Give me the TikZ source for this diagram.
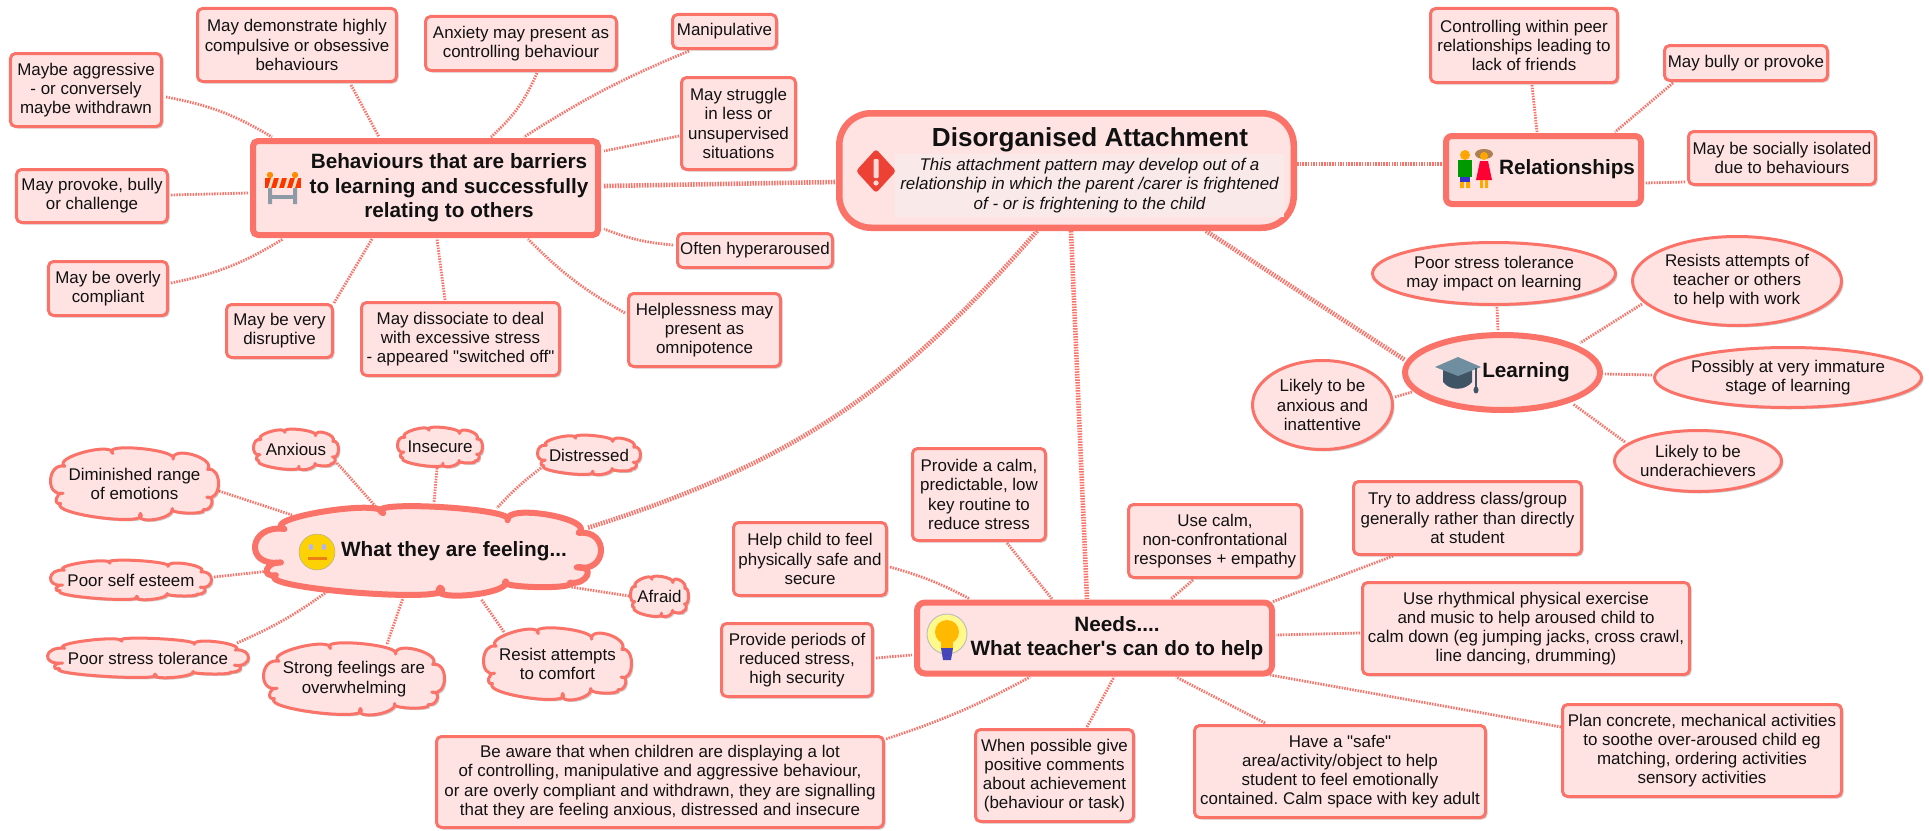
\documentclass[tikz,border=0pt]{standalone}
\usepackage{fontspec}
\setmainfont{Liberation Sans}[Ligatures=TeXOff]
\usetikzlibrary{shapes.geometric,shadows,calc}
\AtBeginDocument{\frenchspacing}
\definecolor{edge}{HTML}{FB7268}
\definecolor{paper}{HTML}{FFE3E3}
\definecolor{ink}{HTML}{111111}
\definecolor{notebg}{HTML}{F9E9E9}
\pgfdeclarelayer{bg}
\pgfsetlayers{bg,main}
\tikzset{
  softshadow/.style={drop shadow={shadow xshift=2bp,shadow yshift=-2bp,fill=black,opacity=.18}},
  base/.style={draw=edge,fill=paper,text=ink,align=center,inner sep=0pt,softshadow},
  smallbox/.style={base,rectangle,rounded corners=5bp,line width=3bp,font=\fontsize{17}{19.3}\selectfont},
  bigbox/.style={base,rectangle,line width=6bp},
  smalltxt/.style={text=ink,align=center,inner sep=0pt,font=\fontsize{17}{19.3}\selectfont},
  headtxt/.style={text=ink,align=center,inner sep=0pt,font=\fontsize{20.8}{24.5}\selectfont\bfseries},
  shapeline/.style={base,line width=3bp},
  lnk/.style={draw=edge,line width=2.8bp,dash pattern=on 1.5bp off 1.2bp},
  mainlnk/.style={lnk,line width=4.6bp},
}
% rectangle with its text inside
\newcommand{\rbx}[5]{\node[smallbox,minimum width={#3bp-3bp},minimum height={#4bp-3bp}] (#1) at (#2) {#5};}
% ellipse with its text on top
\newcommand{\shp}[6]{\node[shapeline,#1,minimum width={#4bp-3bp},minimum height={#5bp-3bp}] (#2) at (#3) {};
  \node[smalltxt] (#2-t) at (#2.center) {#6};}
% the cloud outline, in a unit box
\newcommand{\cloudoutline}{(-.85,.26)
  .. controls (-1.066,.374) and (-1.04,-.614) .. (-.83,-.5)
  .. controls (-.989,-.739) and (-.247,-1.207) .. (-.26,-.86)
  .. controls (-.408,-1.177) and (.528,-.969) .. (.46,-.70)
  .. controls (.445,-1.097) and (.979,-.719) .. (.87,-.41)
  .. controls (1.05,-.50) and (1.04,.514) .. (.86,.37)
  .. controls (.973,.325) and (.921,.779) .. (.82,.72)
  .. controls (.868,.878) and (.388,.838) .. (.45,.69)
  .. controls (.48,.989) and (-.014,1.171) .. (.07,.83)
  .. controls (.22,1.219) and (-1.016,.855) .. (-.88,.55)
  .. controls (-.972,.601) and (-.932,.223) .. (-.85,.26) -- cycle}
% #1 line width, #2 name, #3 centre, #4 w, #5 h
\newcommand{\cldpath}[5]{%
  \path[fill=black,opacity=.18,shift={(#3)},shift={(2,2)},xscale={(#4-#1)/2},yscale={(#5-#1)/2}] \cloudoutline;
  \path[draw=edge,fill=paper,line width=#1bp,line join=round,shift={(#3)},xscale={(#4-#1)/2},yscale={(#5-#1)/2}] \cloudoutline;}
\newcommand{\cld}[5]{\cldpath{3}{#1}{#2}{#3}{#4}\node[smalltxt,minimum width=#3bp,minimum height=#4bp] (#1) at (#2) {#5};}
% connector between two named nodes; offsets are from the node centres
\newcommand{\lnkk}[5][lnk]{\begin{pgfonlayer}{bg}\draw[#1] ([shift={(#3)}]#2.center) to ([shift={(#5)}]#4.center);\end{pgfonlayer}}
\begin{document}
\begin{tikzpicture}[x=1bp,y=-1bp]
\useasboundingbox (0,0) rectangle (1929,831);
% ---- main nodes
\node[bigbox,line width=6.5bp,rounded corners=32bp,minimum width=454.5bp,minimum height=114.5bp] (central) at (1066.5,170.5) {};
\node[fill=notebg,minimum width=389bp,minimum height=63bp,inner sep=0pt] (note) at (1089.5,185.5) {};
\node[text=ink,align=center,inner sep=0pt,font=\fontsize{26.2}{30}\selectfont\bfseries] (title) at (1090,140) {Disorganised Attachment};
\node[text=ink,align=center,inner sep=0pt,font=\fontsize{17}{19.3}\selectfont\itshape] (notetxt) at (note.center) {This attachment pattern may develop out of a\\relationship in which the parent /carer is frightened\\of - or is frightening to the child};
\node[bigbox,rounded corners=5bp,minimum width=345bp,minimum height=94bp] (beh) at (425.5,188) {};
\node[headtxt] (behtxt) at (449,188) {Behaviours that are barriers\\to learning and successfully\\relating to others};
\node[bigbox,rounded corners=6bp,minimum width=195bp,minimum height=68bp] (rel) at (1543.5,170) {};
\node[headtxt] (reltxt) at (1567,169) {Relationships};
\node[bigbox,rounded corners=8bp,minimum width=355bp,minimum height=71bp] (needs) at (1094.5,638) {};
\node[headtxt] (needstxt) at (1117,638) {Needs....\\What teacher's can do to help};
\node[base,ellipse,line width=6bp,minimum width=195bp,minimum height=75bp] (learn) at (1502.5,372.5) {};
\node[headtxt] (learntxt) at (1526,372) {Learning};
\cldpath{6}{feel}{428,551}{352}{94}
\node[minimum width=352bp,minimum height=94bp,inner sep=0pt] (feel) at (428,551) {};
\node[headtxt] (feeltxt) at (454,551) {What they are feeling...};
% ---- behaviours
\rbx{maybeag}{86,90}{154}{76}{Maybe aggressive\\- or conversely\\maybe withdrawn}
\rbx{demon}{297,45}{202}{76}{May demonstrate highly\\compulsive or obsessive\\behaviours}
\rbx{anxiety}{521,43.5}{194}{57}{Anxiety may present as\\controlling behaviour}
\rbx{manip}{724.5,31.5}{107}{37}{Manipulative}
\rbx{struggle}{738.5,123.5}{117}{95}{May struggle\\in less or\\unsupervised\\situations}
\rbx{provoke}{92,196}{154}{56}{May provoke, bully\\or challenge}
\rbx{overly}{108,288.5}{122}{57}{May be overly\\compliant}
\rbx{very}{279.5,331}{109}{56}{May be very\\disruptive}
\rbx{dissoc}{460.5,339}{201}{76}{May dissociate to deal\\with excessive stress\\- appeared "switched off"}
\rbx{helpless}{704.5,330}{155}{76}{Helplessness may\\present as\\omnipotence}
\rbx{often}{755,250.5}{158}{37}{Often hyperaroused}
% ---- relationships
\rbx{ctrl}{1524,45.5}{190}{77}{Controlling within peer\\relationships leading to\\lack of friends}
\rbx{bully}{1746,63}{166}{38}{May bully or provoke}
\rbx{social}{1782,158}{190}{56}{May be socially isolated\\due to behaviours}
% ---- needs
\rbx{calm}{979,494.5}{136}{95}{Provide a calm,\\predictable, low\\key routine to\\reduce stress}
\rbx{help}{810,559}{156}{76}{Help child to feel\\physically safe and\\secure}
\rbx{periods}{797,660}{154}{76}{Provide periods of\\reduced stress,\\high security}
\rbx{usecalm}{1215,541}{176}{76}{Use calm,\\non-confrontational\\responses + empathy}
\rbx{try}{1467.5,518}{231}{76}{Try to address class/group\\generally rather than directly\\at student}
\rbx{rhythm}{1526,628.5}{330}{95}{Use rhythmical physical exercise\\and music to help aroused child to\\calm down (eg jumping jacks, cross crawl,\\line dancing, drumming)}
\rbx{aware}{660,782}{450}{94}{Be aware that when children are displaying a lot\\of controlling, manipulative and aggressive behaviour,\\or are overly compliant and withdrawn, they are signalling\\that they are feeling anxious, distressed and insecure}
\rbx{when}{1054.5,775.5}{161}{95}{When possible give\\positive comments\\about achievement\\(behaviour or task)}
\rbx{safe}{1340,771.5}{294}{95}{Have a "safe"\\area/activity/object to help\\student to feel emotionally\\contained. Calm space with key adult}
\rbx{plan}{1702,750.5}{282}{95}{Plan concrete, mechanical activities\\to soothe over-aroused child eg\\matching, ordering activities\\sensory activities}
% ---- learning (ellipses)
\shp{ellipse}{pst}{1494,273.5}{246}{65}{Poor stress tolerance\\may impact on learning}
\shp{ellipse}{resists}{1737,281}{212}{92}{Resists attempts of\\teacher or others\\to help with work}
\shp{ellipse}{possibly}{1788,377.5}{270}{63}{Possibly at very immature\\stage of learning}
\shp{ellipse}{under}{1698,461}{170}{64}{Likely to be\\underachievers}
\shp{ellipse}{anxlearn}{1322.5,405}{143}{92}{Likely to be\\anxious and\\inattentive}
% ---- feelings (clouds)
\cld{dim}{134.5,484}{171}{74}{Diminished range\\of emotions}
\cld{anxious}{296,449.5}{88}{43}{Anxious}
\cld{insecure}{440,447}{88}{42}{Insecure}
\cld{distress}{589,455}{106}{42}{Distressed}
\cld{self}{131,580}{164}{42}{Poor self esteem}
\cld{pstress}{148,658}{204}{42}{Poor stress tolerance}
\cld{strong}{354,679}{184}{74}{Strong feelings are\\overwhelming}
\cld{resist}{557.5,664}{151}{74}{Resist attempts\\to comfort}
\cld{afraid}{659.5,596.5}{61}{43}{Afraid}
% ---- connectors
\lnkk[lnk,bend left=10]{maybeag}{80,7}{beh}{-153.5,-51}
\lnkk{demon}{54,40}{beh}{-46.5,-51}
\lnkk[lnk,bend left=12]{anxiety}{16,29.5}{beh}{65.5,-51}
\lnkk[lnk,bend right=5]{manip}{-35.5,19.5}{beh}{98.5,-51}
\lnkk{struggle}{-59.5,12.5}{beh}{178.5,-37}
\lnkk{provoke}{79,-1}{beh}{-177.5,5}
\lnkk[lnk,bend right=10]{overly}{63,-5.5}{beh}{-142.5,51}
\lnkk{very}{54.5,-28}{beh}{-53.5,51}
\lnkk{dissoc}{-15.5,-39}{beh}{11.5,51}
\lnkk[lnk,bend left=8]{helpless}{-79.5,-17}{beh}{102.5,51}
\lnkk[lnk,bend left=8]{often}{-82,-5.5}{beh}{178.5,41}
\lnkk[mainlnk]{beh}{178.5,-2}{central}{-230.5,11.5}
\lnkk[mainlnk]{central}{230.5,-6.5}{rel}{-100.5,-6}
\lnkk[mainlnk,bend left=16]{central}{-29.5,60.5}{feel}{159,-23}
\lnkk[mainlnk]{central}{4.5,60.5}{needs}{-7.5,-39}
\lnkk[mainlnk]{central}{139.5,60.5}{learn}{-97.5,-12.5}
\lnkk{ctrl}{8,39.5}{rel}{-6.5,-38}
\lnkk{bully}{-73,20}{rel}{71.5,-38}
\lnkk{social}{-97,24}{rel}{101.5,13}
\lnkk{pst}{3,33.5}{learn}{-4.5,-41.5}
\lnkk{resists}{-95,23}{learn}{77.5,-29.5}
\lnkk{possibly}{-136,-2.5}{learn}{102.5,1.5}
\lnkk{under}{-73,-19}{learn}{70.5,31.5}
\lnkk{anxlearn}{72.5,-8}{learn}{-90.5,19.5}
\lnkk[lnk,bend left=6]{help}{80,8}{needs}{-124.5,-39}
\lnkk{calm}{28,48.5}{needs}{-42.5,-39}
\lnkk{usecalm}{-22,39}{needs}{76.5,-39}
\lnkk{try}{-74.5,38}{needs}{177.5,-36}
\lnkk{rhythm}{-166,4.5}{needs}{181.5,-3}
\lnkk{periods}{79,-2}{needs}{-182.5,17}
\lnkk[lnk,bend right=5]{aware}{226,-43}{needs}{-64.5,39}
\lnkk{when}{32.5,-48.5}{needs}{19.5,39}
\lnkk{safe}{-75,-48.5}{needs}{81.5,39}
\lnkk{plan}{-141,-23.5}{needs}{175.5,37}
\lnkk{dim}{84.5,7}{feel}{-136,-36}
\lnkk{anxious}{41,13.5}{feel}{-51,-43}
\lnkk{insecure}{-3,21}{feel}{6,-48}
\lnkk[lnk,bend right=5]{distress}{-48,13}{feel}{69,-43}
\lnkk{self}{83,-3}{feel}{-158,20}
\lnkk[lnk,bend right=6]{pstress}{89,-15}{feel}{-100,40}
\lnkk{strong}{33,-35}{feel}{-25,47}
\lnkk{resist}{-53.5,-32}{feel}{53,48}
\lnkk{afraid}{-30.5,-0.5}{feel}{143,36}
% ---- icons
\definecolor{alarm}{HTML}{EE4136}
\definecolor{steel}{HTML}{8E9AA5}
\definecolor{board}{HTML}{6F8EA0}
\definecolor{capbody}{HTML}{3F5566}
% warning
\fill[alarm,rounded corners=3bp] (876,149) -- (896,171) -- (876,193) -- (856,171) -- cycle;
\fill[white,opacity=.8,rounded corners=1bp] (873.5,159) rectangle (878.5,178);
\fill[white,opacity=.8] (876,183) circle (2.6);
% barrier
\fill[steel] (268,178) rectangle (272,204) (293,178) rectangle (297,204);
\fill[steel] (268,195) rectangle (297,199);
\fill[orange!90!yellow] (270,175) circle (3.2) (295,175) circle (3.2);
\fill[red!60!orange] (264.5,178) rectangle (301,188);
\foreach \sx in {268,276,284,292}{\fill[white!80!orange] (\sx,188) -- (\sx+3,178) -- (\sx+6,178) -- (\sx+3,188) -- cycle;}
% smiley
\fill[yellow!70!orange,draw=gray!70] (317,552) ellipse (18 and 18);
\fill[blue!30] (311,547) ellipse (2.2 and 3.2) (324,547) ellipse (2.2 and 3.2);
\fill[orange!70!brown] (308,557) rectangle (327,559.5);
% bulb
\fill[yellow!45,draw=gray!50,line width=1bp] (947,634) circle (20);
\fill[orange!55!yellow] (947,632) circle (12);
\fill[orange!55!yellow] (941,636) rectangle (953,648);
\fill[blue!45!gray] (941,648) -- (953,648) -- (951,660) -- (943,660) -- cycle;
% cap
\fill[capbody] (1443,366) -- (1472,366) -- (1472,382) .. controls (1465,391) and (1450,391) .. (1443,382) -- cycle;
\fill[board] (1435,367) -- (1458,357) -- (1481,367) -- (1458,376) -- cycle;
\draw[capbody,line width=1.5bp] (1476,368) -- (1476,388);
\fill[capbody] (1476,390) ellipse (2.5 and 3.5);
% people
\fill[orange!70!yellow] (1465,155) circle (5);
\fill[green!60!black] (1458,160) rectangle (1472,177);
\fill[blue!60!gray] (1460,177) rectangle (1470,182);
\fill[orange!70!yellow] (1460,182) rectangle (1464,188) (1466,182) rectangle (1470,188);
\fill[brown!70!gray] (1484,154) ellipse (9 and 5);
\fill[orange!70!yellow] (1484,156) circle (4);
\fill[red!80!magenta] (1480,161) -- (1488,161) -- (1492,180) -- (1476,180) -- cycle;
\fill[orange!70!yellow] (1480,180) rectangle (1483,188) (1485,180) rectangle (1488,188);
\end{tikzpicture}
\end{document}
